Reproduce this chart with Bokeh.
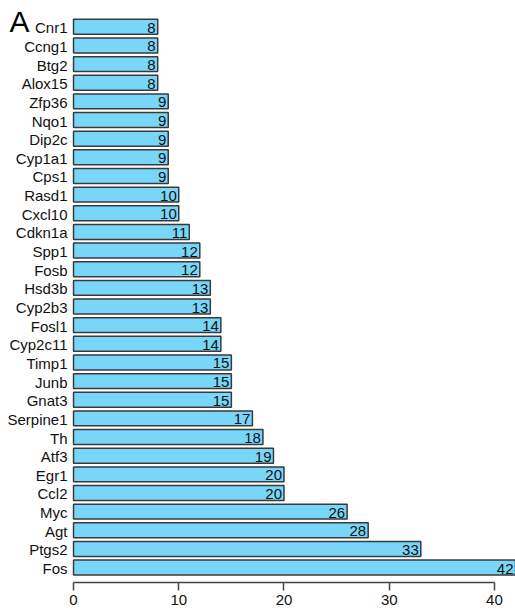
from bokeh.plotting import figure
from bokeh.models import Range1d, FixedTicker, Label, ColumnDataSource
from bokeh.core.properties import value
from bokeh.embed import file_html
from bokeh.resources import INLINE

# top-to-bottom order as in the reference
genes = ["Cnr1", "Ccng1", "Btg2", "Alox15", "Zfp36", "Nqo1", "Dip2c", "Cyp1a1", "Cps1",
         "Rasd1", "Cxcl10", "Cdkn1a", "Spp1", "Fosb", "Hsd3b", "Cyp2b3", "Fosl1", "Cyp2c11",
         "Timp1", "Junb", "Gnat3", "Serpine1", "Th", "Atf3", "Egr1", "Ccl2", "Myc", "Agt",
         "Ptgs2", "Fos"]
counts = [8, 8, 8, 8, 9, 9, 9, 9, 9,
          10, 10, 11, 12, 12, 13, 13, 14, 14,
          15, 15, 15, 17, 18, 19, 20, 20, 26, 28,
          33, 42]
x_ticks = [0, 10, 20, 30, 40]

n = len(genes)
ypos = [n - 1 - i for i in range(n)]
src = ColumnDataSource(dict(gene=genes, count=counts, y=ypos, zero=[0] * n,
                            lab=[str(c) for c in counts]))

FONT = "Liberation Sans"

# frame spans the whole canvas; value 0 sits at ~73 px from the left edge
p = figure(width=515, height=611, output_backend="svg", toolbar_location=None,
           x_range=Range1d(-6.94, 42), y_range=Range1d(-0.8, 30.41),
           min_border_left=0, min_border_right=0, min_border_top=0, min_border_bottom=29)
p.outline_line_color = None
p.grid.grid_line_color = None
p.background_fill_color = "white"
p.border_fill_color = "white"

p.hbar(y="y", left=0, right="count", height=0.8, source=src,
       fill_color="#78D7F9", line_color="#3a3a3a", line_width=1.5)
p.text(x="count", y="y", text="lab", source=src, text_align="right", text_baseline="middle",
       x_offset=-2, y_offset=1, text_font=value(FONT), text_font_size="15px", text_color="#111111")
# category labels (left of the bars)
p.text(x="zero", y="y", text="gene", source=src, text_align="right", text_baseline="middle",
       x_offset=-6, y_offset=1, text_font=value(FONT), text_font_size="15px", text_color="#111111")

xa = p.xaxis[0]
xa.ticker = FixedTicker(ticks=x_ticks)
xa.bounds = (0, 40)
xa.major_tick_in = 0
xa.major_tick_out = 8
xa.minor_tick_line_color = None
xa.axis_line_color = "#444444"
xa.major_tick_line_color = "#444444"
xa.axis_line_width = 1.5
xa.major_tick_line_width = 1.5
xa.major_label_text_font = FONT
xa.major_label_text_font_size = "15px"
xa.major_label_text_color = "#111111"
xa.major_label_standoff = 4

p.yaxis.visible = False

p.add_layout(Label(x=-6.08, y=29.26, text="A", text_font=FONT, text_font_size="30px",
                   text_baseline="middle", text_color="black"))

open("out.html", "w").write(file_html(p, INLINE))
